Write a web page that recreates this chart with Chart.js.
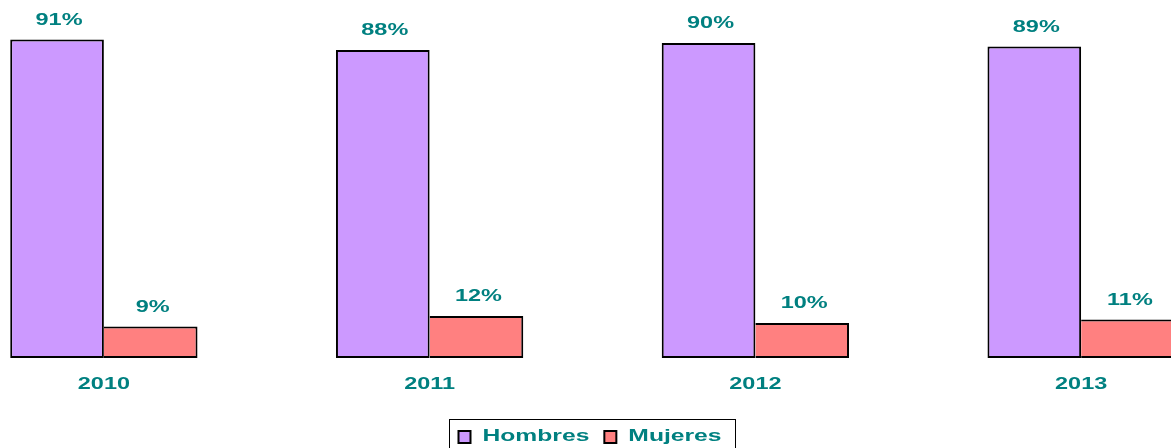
<!DOCTYPE html>
<html>
<head>
<meta charset="utf-8">
<script src="https://cdn.jsdelivr.net/npm/chart.js@4"></script>
<style>
  html, body { margin: 0; padding: 0; background: #fff; overflow: hidden; }
  #wrap { position: absolute; left: -59px; top: 0; width: 1303px; height: 448px; }
</style>
</head>
<body>
<div id="wrap"><canvas id="chart"></canvas></div>
<script>
// datos
const years = ['2010', '2011', '2012', '2013'];
const hombres = [91, 88, 90, 89];
const mujeres = [9, 12, 10, 11];
const seriesNames = ['Hombres', 'Mujeres'];

const TEAL = '#008080';
const FONT = 'bold 17px "Liberation Sans", Arial, sans-serif';
const STRETCH = 1.38;

// texto ensanchado horizontalmente (como en el original)
function wideText(ctx, text, x, y, sx, align) {
  ctx.save();
  ctx.font = FONT;
  ctx.fillStyle = TEAL;
  ctx.textBaseline = 'alphabetic';
  const w = ctx.measureText(text).width * sx;
  let left = x;
  if (align === 'center') left = x - w / 2;
  ctx.translate(left, y);
  ctx.scale(sx, 1);
  ctx.textAlign = 'left';
  ctx.fillText(text, 0, 0);
  ctx.restore();
  return w;
}

const labelsPlugin = {
  id: 'labelsPlugin',
  afterDatasetsDraw(chart) {
    const ctx = chart.ctx;
    chart.data.datasets.forEach((ds, i) => {
      const meta = chart.getDatasetMeta(i);
      meta.data.forEach((bar, j) => {
        wideText(ctx, ds.data[j] + '%', bar.x + 2, bar.y - 15, STRETCH, 'center');
      });
    });
    const xs = chart.scales.x;
    chart.data.labels.forEach((lab, j) => {
      wideText(ctx, lab, xs.getPixelForValue(j), chart.chartArea.bottom + 31, STRETCH, 'center');
    });
  },
};

const legendPlugin = {
  id: 'legendPlugin',
  afterDraw(chart) {
    const ctx = chart.ctx;
    const sx = 1.45;
    const box = 12, gapBox = 12, gapItem = 15, padL = 9, padR = 14;
    ctx.save();
    ctx.font = FONT;
    const items = chart.data.datasets.map(ds => ({
      text: ds.label,
      color: ds.backgroundColor,
      w: ctx.measureText(ds.label).width * sx,
    }));
    let total = padL + padR;
    items.forEach((it, k) => { total += box + gapBox + it.w + (k ? gapItem : 0); });
    const cx = chart.width / 2;
    let x = cx - total / 2;
    const top = 419;
    ctx.strokeStyle = '#000';
    ctx.lineWidth = 1;
    ctx.strokeRect(Math.round(x) + 0.5, top + 0.5, Math.round(total), 34);
    x += padL;
    items.forEach((it, k) => {
      if (k) x += gapItem;
      ctx.fillStyle = it.color;
      ctx.fillRect(x, 431, box, box);
      ctx.lineWidth = 2;
      ctx.strokeRect(x, 431, box, box);
      x += box + gapBox;
      wideText(ctx, it.text, x, 441, sx, 'left');
      x += it.w;
    });
    ctx.restore();
  },
};

new Chart(document.getElementById('chart'), {
  type: 'bar',
  data: {
    labels: years,
    datasets: [
      {
        label: seriesNames[0],
        data: hombres,
        backgroundColor: '#CC99FF',
        borderColor: '#000000',
        borderWidth: { top: 2, left: 2, right: 2, bottom: 2 },
        borderSkipped: false,
      },
      {
        label: seriesNames[1],
        data: mujeres,
        backgroundColor: '#FF8080',
        borderColor: '#000000',
        borderWidth: { top: 2, left: 0, right: 2, bottom: 2 },
        borderSkipped: false,
      },
    ],
  },
  options: {
    responsive: true,
    maintainAspectRatio: false,
    animation: false,
    categoryPercentage: 0.575,
    barPercentage: 1,
    layout: { padding: { top: 8, bottom: 90, left: 0, right: 0 } },
    plugins: {
      legend: { display: false },
      tooltip: { enabled: false },
    },
    scales: {
      x: { display: false },
      y: { display: false, min: 0, max: 100 },
    },
  },
  plugins: [labelsPlugin, legendPlugin],
});
</script>
</body>
</html>
